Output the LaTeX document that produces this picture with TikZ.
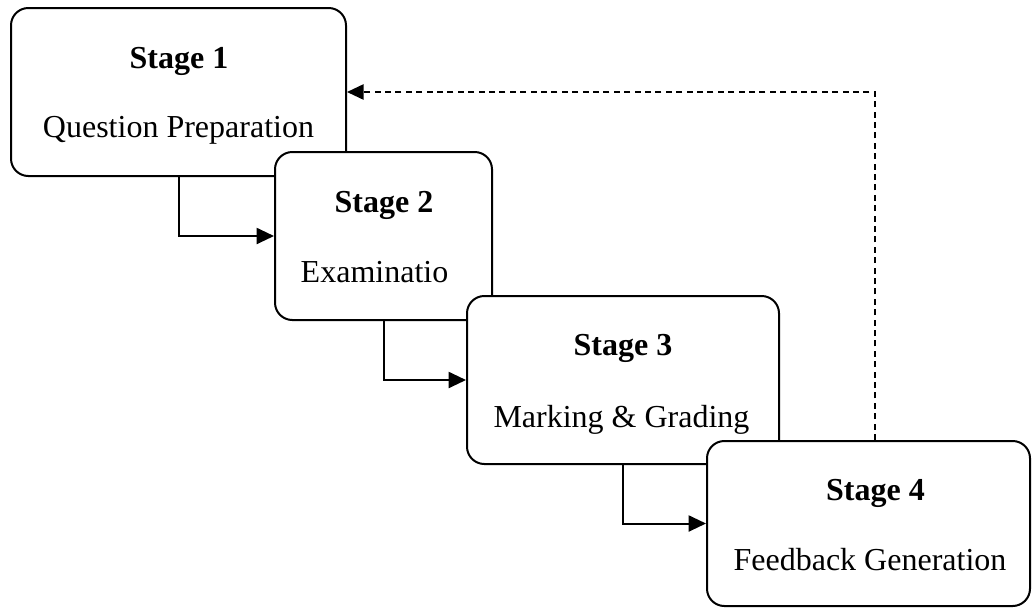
\documentclass[tikz,border=0pt]{standalone}
\usepackage{fontspec}
\setmainfont{Liberation Serif}
\usetikzlibrary{arrows.meta}
\begin{document}
\begin{tikzpicture}[x=0.75pt,y=-0.75pt,
  stagebox/.style={draw, line width=1.5pt, rounded corners=13pt, fill=white,
    inner sep=0pt, minimum height=126pt},
  title/.style={anchor=base, font=\fontsize{24}{28}\selectfont\bfseries, inner sep=0pt},
  caption/.style={anchor=base, font=\fontsize{24}{28}\selectfont, inner sep=0pt},
  flow/.style={line width=1.5pt, -{Triangle[length=13pt,width=12pt]}},
  feedback/.style={line width=1.3pt, dash pattern=on 4.5pt off 3.3pt,
    -{Triangle[length=12.5pt,width=11.5pt]}}]
  \useasboundingbox (0,0) rectangle (1032,608);

  % the four stages, each one laid over the previous
  \node[stagebox, minimum width=251.25pt] (b1) at (178.5,92) {};
  \node[stagebox, minimum width=162.75pt] (b2) at (383.5,236) {};
  \node[stagebox, minimum width=234pt] (b3) at (623,380) {};
  \node[stagebox, minimum width=242.25pt, minimum height=123.75pt] (b4) at (868.5,523.5) {};

  % labels
  \node[title]   (t1) at (179,68)    {Stage 1};
  \node[caption] (c1) at (178.5,137) {Question Preparation};
  \node[title]   (t2) at (384,212)   {Stage 2};
  \node[caption] (c2) at (374.5,282) {Examinatio};
  \node[title]   (t3) at (623,355)   {Stage 3};
  \node[caption] (c3) at (621.5,427) {Marking \& Grading};
  \node[title]   (t4) at (875.5,500) {Stage 4};
  \node[caption] (c4) at (870,570)   {Feedback Generation};

  % forward flow between stages
  \draw[flow] (b1.south) |- (b2.west);
  \draw[flow] (b2.south) |- (b3.west);
  \draw[flow] (b3.south) |- (b4.west);

  % feedback loop back to the first stage
  \draw[feedback] ([xshift=4.9pt]b4.north) |- (b1.east);
\end{tikzpicture}
\end{document}
